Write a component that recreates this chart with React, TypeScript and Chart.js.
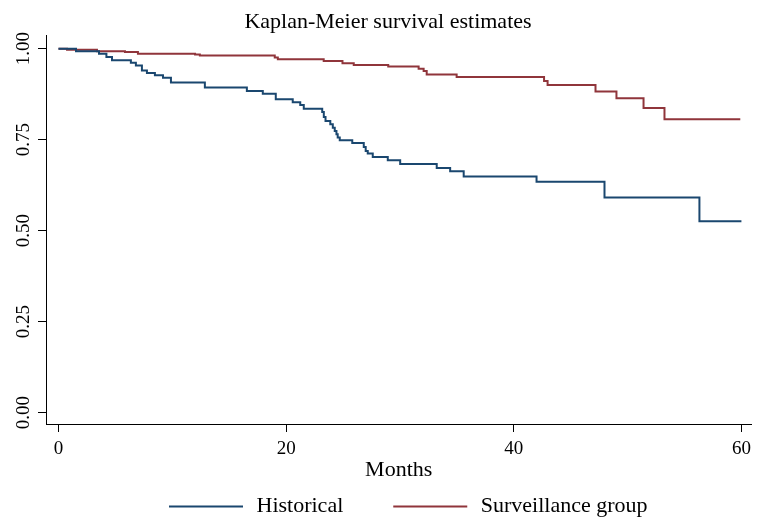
import { useEffect, useRef } from 'react';
import { Chart, registerables } from 'chart.js';

Chart.register(...registerables);

const TITLE = 'Kaplan-Meier survival estimates';
const X_TITLE = 'Months';
const X_TICKS = [0, 20, 40, 60];
const Y_TICKS = [0, 0.25, 0.5, 0.75, 1];
const SERIES_NAMES = ['Historical', 'Surveillance group'];
const SERIES_COLORS = ['#1a476f', '#90353b'];

const HIST_MONTHS = [
  0, 1.54, 3.56, 4.21, 4.7, 6.36, 6.8, 7.33, 7.77, 8.47, 9.18, 9.88, 12.86, 16.55, 17.95, 19.09,
  20.58, 21.24, 21.55, 23.17, 23.31, 23.46, 23.88, 24.1, 24.27, 24.42, 24.53, 24.71, 25.81, 26.82,
  26.99, 27.17, 27.61, 28.93, 30.02, 33.23, 34.41, 35.6, 42.0, 47.97, 56.31, 60,
];
const HIST_SURV = [
  1, 0.993, 0.986, 0.977, 0.968, 0.961, 0.954, 0.94, 0.933, 0.927, 0.92, 0.907, 0.893, 0.884, 0.876, 0.861,
  0.853, 0.845, 0.835, 0.826, 0.812, 0.801, 0.792, 0.783, 0.774, 0.765, 0.756, 0.748, 0.741, 0.73,
  0.719, 0.712, 0.702, 0.693, 0.683, 0.672, 0.663, 0.649, 0.634, 0.591, 0.526, 0.526,
];

const SURV_MONTHS = [
  0, 0.75, 3.38, 5.84, 6.98, 12.0, 12.42, 19.0, 19.27, 23.3, 24.95, 25.94, 28.97, 31.64, 32.08,
  32.35, 34.98, 42.66, 42.97, 47.18, 49.02, 51.4, 53.24, 59.9,
];
const SURV_SURV = [
  1, 0.997, 0.993, 0.991, 0.986, 0.984, 0.981, 0.976, 0.971, 0.966, 0.96, 0.955, 0.951, 0.945, 0.9385,
  0.929, 0.922, 0.911, 0.9, 0.882, 0.8635, 0.837, 0.806, 0.806,
];

const FONT_FAMILY = '"Liberation Serif", "Times New Roman", serif';

const legendPlugin = {
  id: 'kmBottomLegend',
  afterLayout(chart: any) {
    // centre the title a little right of the canvas centre, as in the reference
    const tb = chart.titleBlock;
    if (tb) {
      tb.left = 24;
    }
  },
  afterDraw(chart: any) {
    const ctx = chart.ctx as CanvasRenderingContext2D;
    ctx.save();
    ctx.font = `22px ${FONT_FAMILY}`;
    ctx.textAlign = 'left';
    ctx.textBaseline = 'alphabetic';
    let x = 169;
    const lineY = 506.5;
    const textBase = 512;
    chart.data.datasets.forEach((ds: any) => {
      ctx.strokeStyle = ds.borderColor;
      ctx.lineWidth = 2;
      ctx.beginPath();
      ctx.moveTo(x, lineY);
      ctx.lineTo(x + 74, lineY);
      ctx.stroke();
      ctx.fillStyle = '#000';
      const tx = x + 74 + 13.5;
      ctx.fillText(ds.label, tx, textBase);
      x = tx + ctx.measureText(ds.label).width + 50;
    });
    ctx.restore();
  },
};

export default function App() {
  const canvasRef = useRef<HTMLCanvasElement | null>(null);

  useEffect(() => {
    if (!canvasRef.current) return;
    const tickFont = { family: FONT_FAMILY, size: 19, weight: 'normal' as const };
    const bigFont = { family: FONT_FAMILY, size: 22, weight: 'normal' as const };
    const grid = {
      display: true,
      drawOnChartArea: false,
      drawTicks: true,
      tickLength: 8,
      color: '#000',
      lineWidth: 1,
    };
    const border = { display: true, color: '#000', width: 1 };

    const chart = new Chart(canvasRef.current, {
      type: 'line',
      data: {
        datasets: [
          {
            label: SERIES_NAMES[0],
            data: HIST_MONTHS.map((m, i) => ({ x: m, y: HIST_SURV[i] })),
            borderColor: SERIES_COLORS[0],
            backgroundColor: SERIES_COLORS[0],
            borderWidth: 2,
            pointRadius: 0,
            stepped: 'before',
            fill: false,
          },
          {
            label: SERIES_NAMES[1],
            data: SURV_MONTHS.map((m, i) => ({ x: m, y: SURV_SURV[i] })),
            borderColor: SERIES_COLORS[1],
            backgroundColor: SERIES_COLORS[1],
            borderWidth: 2,
            pointRadius: 0,
            stepped: 'before',
            fill: false,
          },
        ],
      },
      options: {
        responsive: false,
        animation: false,
        events: [],
        layout: { padding: { left: 0, right: 5, top: 0, bottom: 33 } },
        plugins: {
          legend: { display: false },
          tooltip: { enabled: false },
          title: {
            display: true,
            text: TITLE,
            color: '#000',
            font: bigFont,
            padding: { top: 9, bottom: 0 },
          },
        },
        scales: {
          x: {
            type: 'linear',
            min: -1.097,
            max: 60.88,
            afterBuildTicks: (s: any) => {
              s.ticks = X_TICKS.map((v) => ({ value: v }));
            },
            afterFit: (s: any) => {
              s.height = 60;
            },
            ticks: {
              font: tickFont,
              color: '#000',
              padding: 6,
              minRotation: 0,
              maxRotation: 0,
              callback: (v: any) => String(v),
            },
            grid,
            border,
            title: {
              display: true,
              text: X_TITLE,
              color: '#000',
              font: bigFont,
              padding: { top: 0, bottom: 0.2 },
            },
          },
          y: {
            type: 'linear',
            min: -0.0316,
            max: 1.0365,
            afterBuildTicks: (s: any) => {
              s.ticks = Y_TICKS.map((v) => ({ value: v }));
            },
            afterFit: (s: any) => {
              s.width = 46;
            },
            ticks: {
              font: tickFont,
              color: '#000',
              padding: -3,
              crossAlign: 'center',
              minRotation: 90,
              maxRotation: 90,
              callback: (v: any) => Number(v).toFixed(2),
            },
            grid,
            border,
          },
        },
      } as any,
      plugins: [legendPlugin],
    });
    return () => chart.destroy();
  }, []);

  return (
    <div style={{ position: 'fixed', left: 0, top: 0, width: 757, height: 517, background: '#fff' }}>
      <canvas ref={canvasRef} width={757} height={517} style={{ display: 'block' }} />
    </div>
  );
}
